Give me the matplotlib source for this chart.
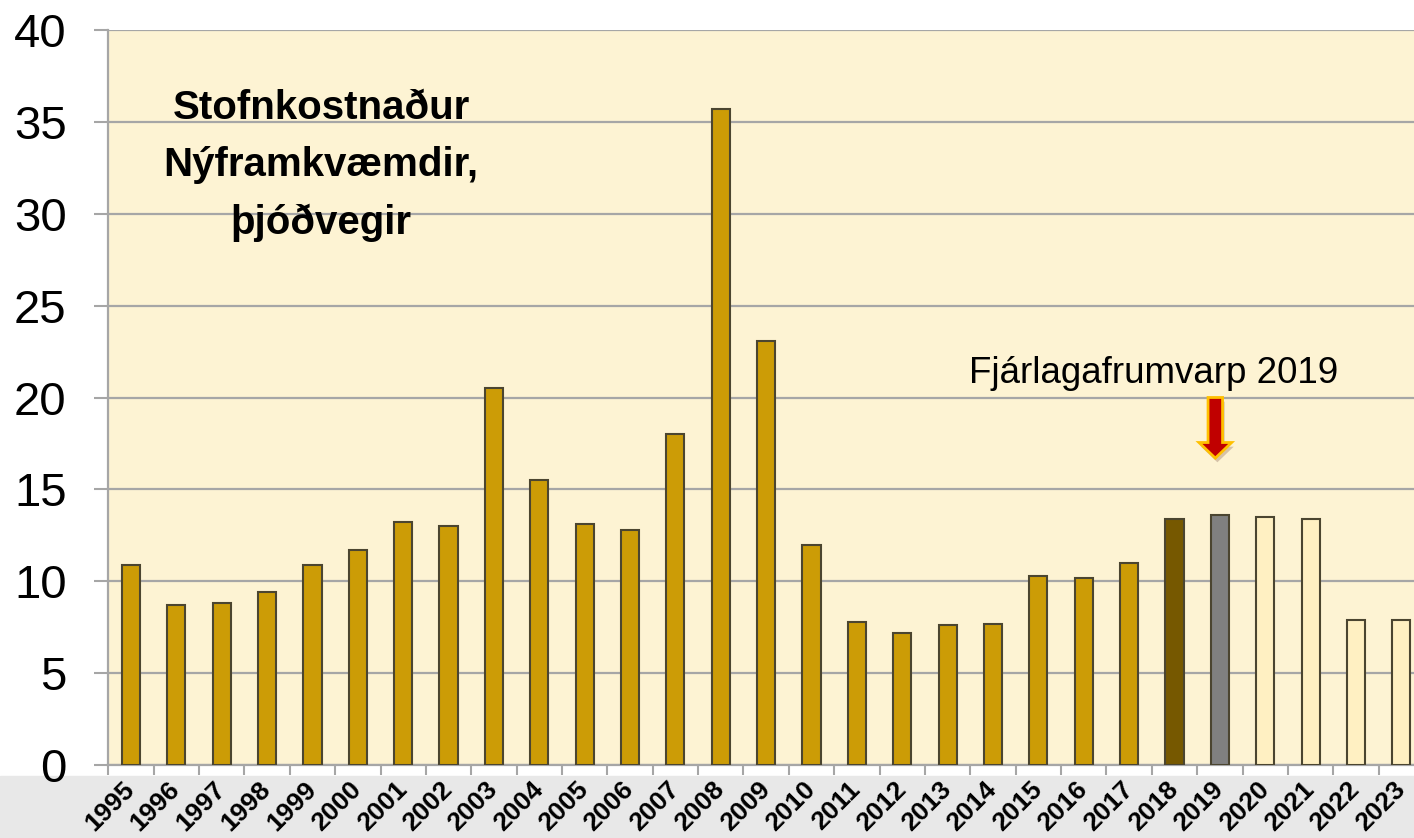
import matplotlib
matplotlib.use("Agg")
import matplotlib.pyplot as plt
import matplotlib.patheffects as pe
from matplotlib.patches import FancyArrow, Rectangle
import numpy as np

plt.rcParams["font.family"] = ["Liberation Sans", "DejaVu Sans"]

years = [str(y) for y in range(1995, 2024)]
values = [10.9, 8.7, 8.8, 9.4, 10.9, 11.7, 13.2, 13.0, 20.5, 15.5,
          13.1, 12.8, 18.0, 35.7, 23.1, 12.0, 7.8, 7.2, 7.6, 7.7,
          10.3, 10.2, 11.0, 13.4, 13.6, 13.5, 13.4, 7.9, 7.9]
title_text = "Stofnkostnaður\nNýframkvæmdir,\nþjóðvegir"
note_text = "Fjárlagafrumvarp 2019"

gold = "#cc9c06"
colors = [gold] * 23 + ["#765800", "#808080"] + ["#fff0c2"] * 4

fig = plt.figure(figsize=(14.14, 8.38), dpi=100)
fig.patches.append(Rectangle((0, 0), 1, 62 / 838, transform=fig.transFigure,
                             color="#e8e8e8", zorder=-10))
ax = fig.add_axes([108.3 / 1414, 73 / 838, (1424 - 108.3) / 1414, 735 / 838])
ax.set_facecolor("#fdf3d3")

x = np.arange(len(years))
ax.bar(x, values, width=0.4, color=colors, edgecolor="#4b4530", linewidth=1.5, zorder=3)

ax.set_xlim(-0.5, len(years) - 0.5)
ax.set_ylim(0, 40)
ax.set_yticks(range(0, 41, 5))
ax.yaxis.grid(True, color="#a6a6a6", linewidth=1.6, zorder=1)
ax.set_axisbelow(True)

ax.set_xticks(x)
ax.set_xticklabels(years, rotation=45, ha="right", va="center", rotation_mode="anchor",
                   fontsize=19, fontweight="bold")
ax.set_xticks(np.arange(-0.5, len(years), 1), minor=True)
ax.tick_params(axis="x", which="major", length=0, pad=15)
ax.tick_params(axis="x", which="minor", length=7, width=1.5, color="#a6a6a6")
ax.tick_params(axis="y", labelsize=34, length=10, width=1.5, color="#a6a6a6", pad=20)

for s in ["top", "right"]:
    ax.spines[s].set_visible(False)
for s in ["left", "bottom"]:
    ax.spines[s].set_color("#a6a6a6")
    ax.spines[s].set_linewidth(1.6)

ax.text(4.19, 36.8, title_text, ha="center", va="top", fontsize=29,
        fontweight="bold", linespacing=1.65)
ax.text(22.54, 20.8, note_text, ha="center", va="baseline", fontsize=26.5)

arrow = FancyArrow(23.9, 20.0, 0, -3.3, width=0.32, head_width=0.72,
                   head_length=0.85, length_includes_head=True,
                   facecolor="#c00000", edgecolor="#ffc000", linewidth=2, zorder=5)
arrow.set_path_effects([pe.SimplePatchShadow(offset=(1.5, -3), alpha=0.2), pe.Normal()])
ax.add_patch(arrow)

fig.savefig("out.png", dpi=100)
